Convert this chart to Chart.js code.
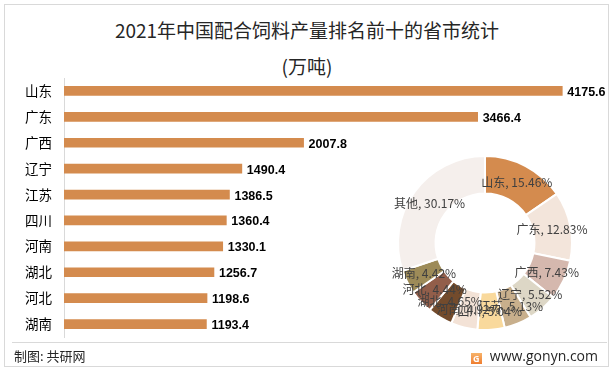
<!DOCTYPE html>
<html>
<head>
<meta charset="utf-8">
<script src="https://cdn.jsdelivr.net/npm/chart.js@4"></script>
<style>
  body { margin: 0; background: #fff; }
  #wrap { position: relative; width: 614px; height: 371px; overflow: hidden; font-family: "Noto Sans CJK SC", sans-serif; }
  #frame { position: absolute; left: 4px; top: 4px; width: 603px; height: 361px; border: 1px solid #d9d9d9; }
  .title { position: absolute; left: 0; width: 614px; text-align: center; color: #262626; font-size: 19px; line-height: 24px; }
  #barCanvas { position: absolute; left: 0; top: 0; }
  #pieCanvas { position: absolute; left: 355px; top: 133px; }
  #rule { position: absolute; left: 12px; top: 342px; width: 595px; height: 1px; background: #d9d9d9; }
  #src { position: absolute; left: 14px; top: 346px; font-size: 13px; line-height: 20px; color: #262626; }
  #site { position: absolute; right: 16px; top: 346px; font-size: 14px; line-height: 20px; color: #262626; font-family: "Open Sans", sans-serif; }
  #logo { display: inline-block; width: 11px; height: 11px; margin-right: 8px; vertical-align: -1px;
          background: linear-gradient(#f7b36a, #ef7d2f); color: #fff; font-size: 9px; line-height: 11px; text-align: center; font-weight: bold; }
</style>
</head>
<body>
<div id="wrap">
  <div id="frame"></div>
  <div class="title" style="top:18px">2021年中国配合饲料产量排名前十的省市统计</div>
  <div class="title" style="top:54px">(万吨)</div>
  <canvas id="barCanvas" width="614" height="371"></canvas>
  <canvas id="pieCanvas" width="260" height="220"></canvas>
  <div id="rule"></div>
  <div id="src">制图: 共研网</div>
  <div id="site"><span id="logo">G</span>www.gonyn.com</div>
</div>
<script>
// 产量排名前十的省份（万吨）
var provinces = ['山东', '广东', '广西', '辽宁', '江苏', '四川', '河南', '湖北', '河北', '湖南'];
var output = [4175.6, 3466.4, 2007.8, 1490.4, 1386.5, 1360.4, 1330.1, 1256.7, 1198.6, 1193.4];

// 占比（%）
var shareNames = ['山东', '广东', '广西', '辽宁', '江苏', '四川', '河南', '湖北', '河北', '湖南', '其他'];
var shareValues = [15.46, 12.83, 7.43, 5.52, 5.13, 5.04, 4.92, 4.65, 4.44, 4.42, 30.17];
var shareColors = ['#d48b4e', '#f3e5db', '#d5b8ae', '#ddd7c6', '#c8af8c', '#f9d99c',
                   '#f3e2d6', '#734b2c', '#925e4a', '#9d8b58', '#f5efec'];

Chart.defaults.animation = false;
Chart.defaults.font.family = '"Noto Sans CJK SC", sans-serif';

// 柱子末端的数值
var barValues = {
  id: 'barValues',
  afterDatasetsDraw: function (chart) {
    var ctx = chart.ctx;
    var meta = chart.getDatasetMeta(0);
    ctx.save();
    ctx.font = 'bold 12.5px "Liberation Sans", sans-serif';
    ctx.fillStyle = '#000';
    ctx.textBaseline = 'middle';
    ctx.textAlign = 'left';
    meta.data.forEach(function (bar, i) {
      ctx.fillText(output[i].toFixed(1), bar.x + 5, bar.y + 1.5);
    });
    ctx.restore();
  }
};

// 环形图标签
var ringLabels = {
  id: 'ringLabels',
  afterDatasetsDraw: function (chart) {
    var ctx = chart.ctx;
    var meta = chart.getDatasetMeta(0);
    ctx.save();
    ctx.font = '12px "Noto Sans CJK SC", sans-serif';
    ctx.fillStyle = '#404040';
    ctx.textBaseline = 'middle';
    ctx.textAlign = 'center';
    meta.data.forEach(function (arc, i) {
      var p = arc.getProps(['x', 'y', 'startAngle', 'endAngle', 'innerRadius', 'outerRadius']);
      var a = (p.startAngle + p.endAngle) / 2;
      var r = (p.innerRadius + p.outerRadius) / 2;
      var txt = shareNames[i] + ', ' + shareValues[i].toFixed(2) + '%';
      ctx.fillText(txt, p.x + Math.cos(a) * r, p.y + Math.sin(a) * r);
    });
    ctx.restore();
  }
};

new Chart(document.getElementById('barCanvas').getContext('2d'), {
  type: 'bar',
  data: {
    labels: provinces,
    datasets: [{
      data: output,
      backgroundColor: '#d48b4e',
      barThickness: 9
    }]
  },
  options: {
    indexAxis: 'y',
    responsive: false,
    layout: { padding: { left: 14, right: 13, top: 78, bottom: 34 } },
    plugins: { legend: { display: false }, tooltip: { enabled: false } },
    scales: {
      x: { display: false, min: 0, max: 4500 },
      y: {
        afterFit: function (s) { s.width = 50; },
        grid: { display: false, drawTicks: false },
        border: { color: '#d9d9d9' },
        ticks: { color: '#000', padding: 12, font: { size: 13.5 } }
      }
    }
  },
  plugins: [barValues]
});

new Chart(document.getElementById('pieCanvas').getContext('2d'), {
  type: 'doughnut',
  data: {
    labels: shareNames,
    datasets: [{
      data: shareValues,
      backgroundColor: shareColors,
      borderColor: '#fff',
      borderWidth: 2,
      hoverOffset: 0
    }]
  },
  options: {
    responsive: false,
    radius: 87,
    cutout: 62,
    plugins: { legend: { display: false }, tooltip: { enabled: false } }
  },
  plugins: [ringLabels]
});
</script>
</body>
</html>
